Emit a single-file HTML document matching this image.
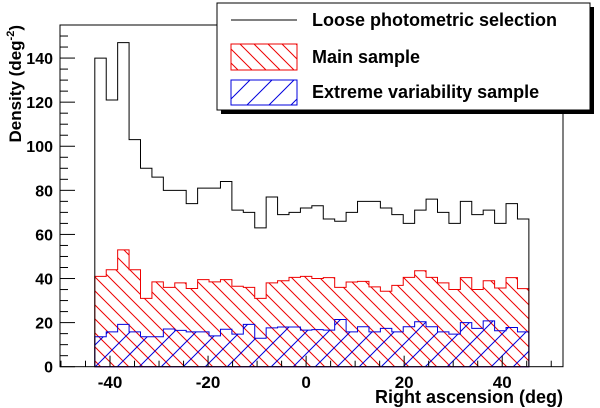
<!DOCTYPE html>
<html><head><meta charset="utf-8"><style>
body{margin:0;background:#fff}
svg{display:block;font-family:"Liberation Sans",Arial,sans-serif}
</style></head><body>
<svg id="chart" width="600" height="408" viewBox="0 0 600 408">
<defs>
<pattern id="redHatch" patternUnits="userSpaceOnUse" width="14" height="14">
<line x1="-1" y1="-1" x2="15" y2="15" stroke="#e00" stroke-width="1"/>
<line x1="-15" y1="-1" x2="1" y2="15" stroke="#e00" stroke-width="1"/>
<line x1="13" y1="-1" x2="29" y2="15" stroke="#e00" stroke-width="1"/>
</pattern>
<pattern id="blueHatch" patternUnits="userSpaceOnUse" width="22" height="22">
<line x1="-1" y1="23" x2="23" y2="-1" stroke="#00d" stroke-width="1"/>
<line x1="-23" y1="23" x2="1" y2="-1" stroke="#00d" stroke-width="1"/>
<line x1="21" y1="23" x2="45" y2="-1" stroke="#00d" stroke-width="1"/>
</pattern>
</defs>
<g id="plot"></g>
<g>
<rect x="221" y="7" width="373" height="107" fill="#000"/>
<rect x="217" y="3" width="373" height="107" fill="#fff" stroke="#000" stroke-width="1"/>
<line x1="231" y1="20" x2="297" y2="20" stroke="#000" stroke-width="1"/>
<text x="312" y="26" font-size="18" font-weight="bold">Loose photometric selection</text>
<rect x="231" y="44" width="66" height="26" fill="url(#redHatch)" stroke="#e00"/>
<text x="312" y="63" font-size="18" font-weight="bold">Main sample</text>
<rect x="231" y="80" width="66" height="25" fill="url(#blueHatch)" stroke="#00d"/>
<text x="312" y="98" font-size="18" font-weight="bold">Extreme variability sample</text>
</g>
<text x="563" y="403" text-anchor="end" font-size="18" font-weight="bold">Right ascension (deg)</text>
<text transform="translate(21,25) rotate(-90)" text-anchor="end" font-size="17" font-weight="bold">Density (deg<tspan dy="-7" font-size="11">-2</tspan><tspan dy="7">)</tspan></text>
</svg>
<script>
const binStart = -43.1;
const binWidth = 2.33;
const looseValues = [140,121,147,103,90,86,80,80,74,81,81,84,71,70,63,77,69,70,72,73,67,66,70,75,75,72,69,65,71,76,70,65,75,69,71,65,74,67];
const mainValues = [41,44,53,44,31,38.5,36,38,35.5,39.5,38.5,39.5,36.5,36,31,38,39,40.5,41,40,40.4,36,38.4,38.7,36.2,34.2,36.9,40.5,43.5,40.5,38,35,40.4,35,39,35.7,40.4,35.4];
const extremeValues = [13.6,15.8,19.2,15.8,13.6,13.6,17.1,16.5,15.8,15.8,14,17,14.8,19.2,12.9,17.6,18,18,16.6,16.8,16.6,21.4,15.8,18.1,15.8,17.4,15.8,18.1,20.4,18.1,15.8,14.8,20,17.4,20.8,16.3,17.8,15.8];
const yTicks = [0,20,40,60,80,100,120,140];
const xTicks = [-40,-20,0,20,40];

const X0=60,X1=563,Y0=366.7,Y1=25;
const xMin=-50.2,xMax=52.4,yMin=0,yMax=155;
const sx=v=>X0+(v-xMin)/(xMax-xMin)*(X1-X0);
const sy=v=>Y0-(v-yMin)/(yMax-yMin)*(Y0-Y1);
const NS='http://www.w3.org/2000/svg';
const g=document.getElementById('plot');
function mk(tag,attrs){const e=document.createElementNS(NS,tag);for(const k in attrs)e.setAttribute(k,attrs[k]);g.appendChild(e);return e;}
function stepPath(vals,close){
  let d='M'+sx(binStart)+','+sy(0);
  vals.forEach((v,i)=>{const a=sx(binStart+i*binWidth),b=sx(binStart+(i+1)*binWidth);d+=' L'+a+','+sy(v)+' L'+b+','+sy(v);});
  d+=' L'+sx(binStart+vals.length*binWidth)+','+sy(0);
  if(close)d+=' Z';
  return d;
}
let p=mk('path',{d:stepPath(mainValues,true),fill:'url(#redHatch)',stroke:'#e00','stroke-width':1});


p=mk('path',{d:stepPath(extremeValues,true),fill:'url(#blueHatch)',stroke:'#00d','stroke-width':1});


p=mk('path',{d:stepPath(looseValues,false),fill:'none',stroke:'#000','stroke-width':1});


let f=mk('rect',{x:X0,y:Y1,width:X1-X0,height:Y0-Y1,fill:'none',stroke:'#000','stroke-width':1});


for(let v=0;v<=155;v+=5){const major=v%20===0;mk('line',{x1:X0,x2:X0+(major?15:8),y1:sy(v),y2:sy(v),stroke:'#000'});}
yTicks.forEach(v=>{const t=mk('text',{x:53,y:sy(v)+6,'text-anchor':'end','font-size':16,'font-weight':'bold'});t.textContent=v;

});
for(let v=-50;v<=50;v+=5){const major=v%20===0;mk('line',{x1:sx(v),x2:sx(v),y1:Y0,y2:Y0-(major?11:6),stroke:'#000'});}
xTicks.forEach(v=>{const t=mk('text',{x:sx(v),y:388,'text-anchor':'middle','font-size':17,'font-weight':'bold'});t.textContent=v;

});
</script>
</body></html>
